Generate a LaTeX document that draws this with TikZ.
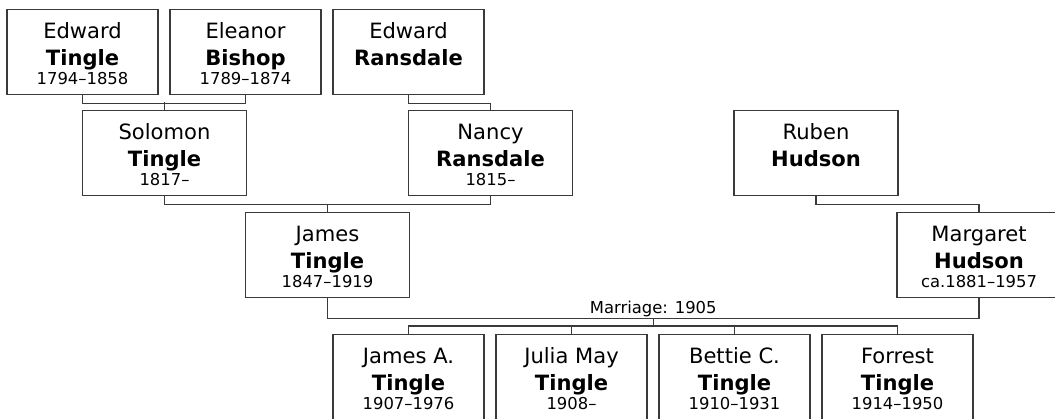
\documentclass[tikz,border=0pt]{standalone}
\usepackage{fontspec}
\setmainfont{DejaVu Sans}
\definecolor{treeline}{HTML}{3A3A3A}
\usetikzlibrary{positioning,calc}

\newcommand{\person}[3]{#1\\\textbf{#2}\\[-5.25pt]{\fontsize{12.3}{14}\selectfont #3}}

\tikzset{
  personbox/.style={rectangle, draw=treeline, line width=1pt, fill=white, anchor=north,
    align=center, inner sep=0pt, font=\fontsize{15.8}{19.875}\selectfont,
    text height=56.25pt, text depth=7.5pt},
  oldbox/.style={personbox, minimum width=113.25pt},
  midbox/.style={personbox, minimum width=123pt},
  link/.style={draw=treeline, line width=1pt}
}

\begin{document}
\begin{tikzpicture}[x=0.75pt, y=-0.75pt]
    \useasboundingbox (0,0) rectangle (1055,418);
    \clip (0,0) rectangle (1055,418);

    % Top row
    \node[oldbox] (etingle) at (82.5,9) {\person{Edward}{Tingle}{1794--1858}};
    \node[oldbox] (ebishop) at (245.5,9) {\person{Eleanor}{Bishop}{1789--1874}};
    \node[oldbox] (eransdale) at (408.5,9) {\person{Edward}{Ransdale}{}};

    % Second row
    \node[midbox] (stingle) at (164.5,110) {\person{Solomon}{Tingle}{1817--}};
    \node[midbox] (nransdale) at (490.5,110) {\person{Nancy}{Ransdale}{1815--}};
    \node[midbox] (rhudson) at (816,110) {\person{Ruben}{Hudson}{}};

    % Third row
    \node[midbox] (jtingle) at (327.5,212) {\person{James}{Tingle}{1847--1919}};
    \node[midbox] (mhudson) at (979,212) {\person{Margaret}{Hudson}{ca.1881--1957}};

    % Children
    \node[oldbox] (jatingle) at (408.5,334) {\person{James A.}{Tingle}{1907--1976}};
    \node[oldbox] (jmtingle) at (571.5,334) {\person{Julia May}{Tingle}{1908--}};
    \node[oldbox] (bctingle) at (734.5,334) {\person{Bettie C.}{Tingle}{1910--1931}};
    \node[oldbox] (ftingle) at (897.5,334) {\person{Forrest}{Tingle}{1914--1950}};

    % Parents to children
    \draw[link] (etingle.south) -- ++(0,8) -| (ebishop.south);
    \draw[link] (stingle.north) -- ++(0,-8);
    \draw[link] (eransdale.south) -- ++(0,8) -| (nransdale.north);
    \draw[link] (stingle.south) -- ++(0,8) -| (nransdale.south);
    \draw[link] (jtingle.north) -- ++(0,-8);
    \draw[link] (rhudson.south) -- ++(0,8) -| (mhudson.north);

    % Marriage
    \draw[link] (jtingle.south) -- ++(0,20) -| (mhudson.south);
    \coordinate (wed) at ($(jtingle.south)!.5!(mhudson.south) + (0,20)$);
    \node[anchor=south, inner sep=0.5pt, font=\fontsize{12.3}{14}\selectfont] (wedlabel) at (wed) {Marriage: 1905};
    \draw[link] (wed) -- ++(0,9);
    \draw[link] (jatingle.north) -- ++(0,-8) -| (ftingle.north);
    \draw[link] (jmtingle.north) -- ++(0,-8);
    \draw[link] (bctingle.north) -- ++(0,-8);
\end{tikzpicture}
\end{document}
